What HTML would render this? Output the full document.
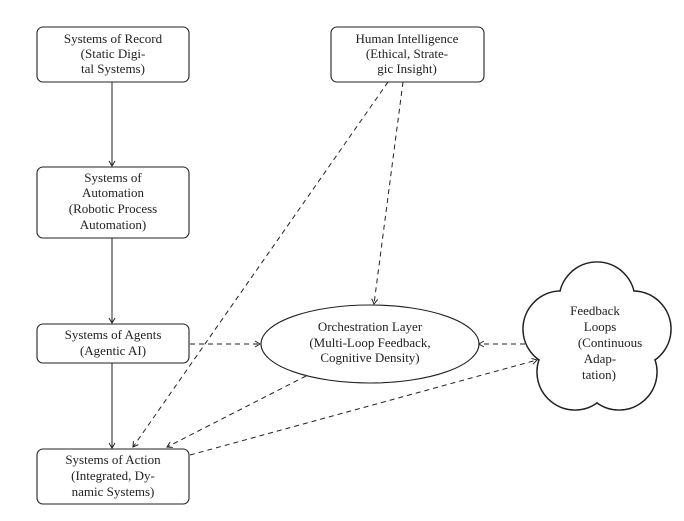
<!DOCTYPE html>
<html><head><style>
html,body{margin:0;padding:0;background:#fff}
svg{display:block}
text{font-family:"Liberation Serif",serif;font-size:13px;fill:#222}
</style></head><body>
<svg width="684" height="521" viewBox="0 0 684 521" xmlns="http://www.w3.org/2000/svg">
<defs>
<marker id="a" markerWidth="8" markerHeight="8" refX="6" refY="4" orient="auto" markerUnits="userSpaceOnUse">
<path d="M1,1 L6,4 L1,7" fill="none" stroke="#222" stroke-width="1"/>
</marker>
</defs>
<g fill="none" stroke="#222" stroke-width="1.1">
<rect x="37" y="27" width="152" height="55" rx="6"/>
<rect x="37" y="167" width="152" height="71" rx="6"/>
<rect x="37" y="324" width="152" height="39" rx="6"/>
<rect x="37" y="449" width="152" height="55" rx="6"/>
<rect x="331" y="27" width="153" height="55" rx="6"/>
<ellipse cx="370" cy="344" rx="109" ry="39"/>
</g>
<g stroke="#222" stroke-width="1.6" fill="none">
<circle cx="597" cy="300" r="38"/>
<circle cx="633" cy="329" r="38"/>
<circle cx="619" cy="372" r="38"/>
<circle cx="575" cy="372" r="38"/>
<circle cx="561" cy="329" r="38"/>
</g>
<g fill="#fff" stroke="none">
<circle cx="597" cy="300" r="37.2"/>
<circle cx="633" cy="329" r="37.2"/>
<circle cx="619" cy="372" r="37.2"/>
<circle cx="575" cy="372" r="37.2"/>
<circle cx="561" cy="329" r="37.2"/>
<circle cx="597" cy="341" r="30"/>
</g>
<g stroke="#222" stroke-width="1" fill="none" marker-end="url(#a)">
<line x1="112" y1="82" x2="112" y2="166"/>
<line x1="112" y1="238" x2="112" y2="323"/>
<line x1="112" y1="363" x2="112" y2="448"/>
</g>
<g stroke="#222" stroke-width="1" fill="none" stroke-dasharray="5,4" marker-end="url(#a)">
<line x1="388" y1="82" x2="133" y2="447"/>
<line x1="403" y1="82" x2="374" y2="304"/>
<line x1="190" y1="344" x2="260" y2="344"/>
<line x1="525" y1="344" x2="479" y2="344"/>
<line x1="306" y1="376" x2="167" y2="447"/>
<line x1="190" y1="455" x2="537" y2="360"/>
</g>
<g text-anchor="middle">
<text x="113" y="43">Systems of Record</text>
<text x="113" y="58">(Static Digi-</text>
<text x="113" y="73">tal Systems)</text>
<text x="113" y="182">Systems of</text>
<text x="113" y="197">Automation</text>
<text x="113" y="213">(Robotic Process</text>
<text x="113" y="229">Automation)</text>
<text x="113" y="339">Systems of Agents</text>
<text x="113" y="355">(Agentic AI)</text>
<text x="113" y="464">Systems of Action</text>
<text x="113" y="480">(Integrated, Dy-</text>
<text x="113" y="496">namic Systems)</text>
<text x="407" y="43">Human Intelligence</text>
<text x="407" y="58">(Ethical, Strate-</text>
<text x="407" y="73">gic Insight)</text>
<text x="370" y="331">Orchestration Layer</text>
<text x="370" y="347">(Multi-Loop Feedback,</text>
<text x="370" y="362">Cognitive Density)</text>
<text x="595" y="315">Feedback</text>
<text x="600" y="331">Loops</text>
<text x="610" y="347">(Continuous</text>
<text x="600" y="363">Adap-</text>
<text x="599" y="379">tation)</text>
</g>
</svg>
</body></html>
